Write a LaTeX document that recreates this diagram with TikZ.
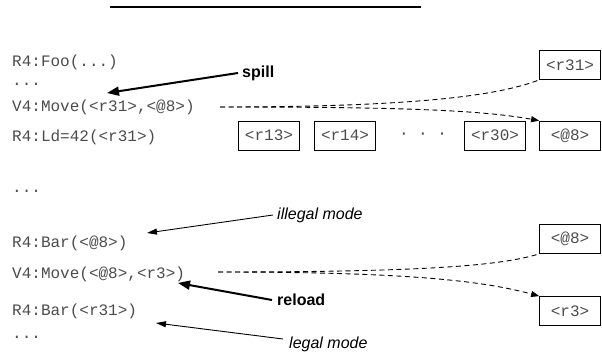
\documentclass[tikz,border=0pt]{standalone}
\usepackage{fontspec}
\setmonofont{Liberation Mono}
\setsansfont{Liberation Sans}
\usetikzlibrary{arrows.meta}
\begin{document}
\begin{tikzpicture}[x=1pt,y=-1pt,
 code/.style={font=\ttfamily\fontsize{16}{16}\selectfont, text=black!70, anchor=base west, inner sep=0pt},
 reg/.style={draw=black, line width=0.8pt, font=\ttfamily\fontsize{16}{16}\selectfont, text=black!70, minimum width=61pt, minimum height=29pt, inner sep=0pt},
 lab/.style={font=\sffamily\bfseries\fontsize{16}{16}\selectfont, inner sep=0pt, anchor=west},
 note/.style={font=\sffamily\itshape\fontsize{16}{16}\selectfont, inner sep=0pt, anchor=west},
 bigarrow/.style={line width=2pt, -{Triangle[length=12pt,width=9pt]}},
 thinarrow/.style={line width=0.9pt, -{Triangle[length=10pt,width=6pt]}},
 dashline/.style={line width=0.9pt, dash pattern=on 5pt off 3.5pt},
 dashtip/.style={-{Triangle[length=8pt,width=6pt]}},
]
\useasboundingbox (0,0) rectangle (602,358);
\draw[line width=2pt] (110,7) -- (421,7);

% code lines
\node[code] (foo) at (12,67) {R4:Foo(...)};
\node[code] (d1) at (12,86) {...};
\node[code] (mv1) at (12,112) {V4:Move(<r31>,<@8>)};
\node[code] (ld) at (12,142) {R4:Ld=42(<r31>)};
\node[code] (d2) at (12,193) {...};
\node[code] (bar1) at (12,247) {R4:Bar(<@8>)};
\node[code] (mv2) at (12,278) {V4:Move(<@8>,<r3>)};
\node[code] (bar2) at (12,315) {R4:Bar(<r31>)};
\node[code] (d3) at (12,338) {...};

% registers
\node[reg] (r31) at (570,65) {<r31>};
\node[reg] (r13) at (269,135.5) {<r13>};
\node[reg] (r14) at (345,135.5) {<r14>};
\node[code, anchor=center] (dots) at (423,135.5) {· · ·};
\node[reg] (r30) at (495,135.5) {<r30>};
\node[reg] (m8a) at (570,135.5) {<@8>};
\node[reg] (m8b) at (570,239) {<@8>};
\node[reg] (r3) at (570,311) {<r3>};

% labels
\node[lab] (spill) at (242,73) {spill};
\node[lab] (reload) at (277,300) {reload};
\node[note] (illegal) at (277,215) {illegal mode};
\node[note] (legal) at (289,344) {legal mode};

\coordinate (tspill) at (107,93);
\coordinate (treload) at (178,283);
\coordinate (tillegal) at (147,233);
\coordinate (tlegal) at (156,323);

\draw[bigarrow] ([xshift=-4pt]spill.west) -- (tspill);
\draw[bigarrow] ([xshift=-5pt]reload.west) -- (treload);
\draw[thinarrow] ([xshift=-4pt]illegal.west) -- (tillegal);
\draw[thinarrow] ([xshift=-6pt,yshift=5pt]legal.west) -- (tlegal);

% dashed moves
\coordinate (s1) at (220,107);
\coordinate (s2) at (218,272);
\draw[dashline] (s1) .. controls (420,107) and (500,95) .. (r31.south west);
\draw[dashline, dashtip] (s1) .. controls (400,107) and (480,110) .. (m8a.north west);
\draw[dashline] (s2) .. controls (420,272) and (500,266) .. (m8b.south west);
\draw[dashline, dashtip] (s2) .. controls (400,272) and (480,280) .. (r3.north west);
\end{tikzpicture}
\end{document}
